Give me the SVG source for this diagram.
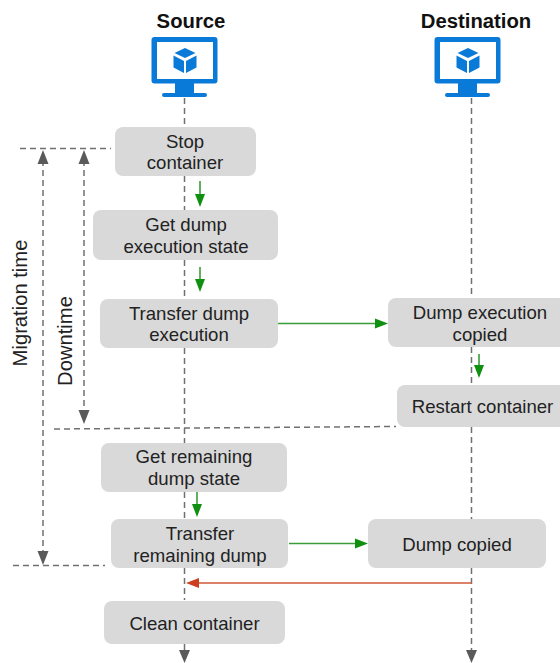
<svg xmlns="http://www.w3.org/2000/svg" width="560" height="663" viewBox="0 0 560 663">
<style>
text{font-family:"Liberation Sans",Arial,sans-serif;font-size:18.600px;fill:#222;text-anchor:middle}
.h{font-weight:bold;font-size:20.300px;fill:#111}
.v{font-size:20.200px}
.box{fill:#d9d9d9}
.d{fill:none;stroke:#707070;stroke-width:1.500;stroke-dasharray:6 4}
.g{fill:none;stroke:#3a9d3a;stroke-width:1.600}
.gh{fill:#109010}
.r{fill:none;stroke:#d0583a;stroke-width:1.600}
.rh{fill:#cc3f20}
.dh{fill:#5a5a5a}
.m{fill:#0a7ad8}
</style>
<defs>
<g id="mon">
<path class="m" fill-rule="evenodd" d="M-29.500 -23h59a3 3 0 0 1 3 3v40.500a3 3 0 0 1-3 3h-20.500v9.500h11a2 2 0 0 1 0 4h-41a2 2 0 0 1 0-4h11v-9.500h-20.500a3 3 0 0 1-3-3v-40.500a3 3 0 0 1 3-3zM-28 -18v37h56v-37z"/>
<path class="m" d="M0 -12l10.500 5-10.500 5-10.500-5zM-11.500 -4.500l10.500 5.500v12l-10.500-5.500zM11.500 -4.500l-10.500 5.500v12l10.500-5.500z"/>
</g>
</defs>
<g id="connectors">
<path class="d" d="M184.500 98V127M184.500 176V210M184.500 260V299M184.500 348V443M184.500 492V519M184.500 568V600M184.500 644V652"/>
<path class="dh" d="M179 650h11l-5.500 13z"/>
<path class="d" d="M471.500 98V299M471.500 347V385M471.500 427V519M471.500 568V652"/>
<path class="dh" d="M466 650h11l-5.500 13z"/>
<path class="d" d="M20 148.500H111M54 429L396 426.500M13 565.500H105"/>
<path class="d" d="M43 160V554M84 160V412"/>
<path class="dh" d="M43 150l5.500 14h-11zM84 150l5.500 14h-11zM84 424l-5.500-14h11zM43 565l-5.500-14h11z"/>
<path class="g" d="M200 181V196M200 267V281M197 492V506M479 354V368M278 323.500H375M289 543.500H358"/>
<path class="gh" d="M200 207l-5-13h10zM200 292l-5-13h10zM197 517l-5-13h10zM479 378l-5-13h10zM388 323.500l-13-5v10zM368 543.500l-13-5v10z"/>
<path class="r" d="M472 583H198"/>
<path class="rh" d="M186 583l13-5v10z"/>
</g>
<g id="source-head"><text class="h" x="191" y="28">Source</text><use href="#mon" x="185" y="60"/></g>
<g id="destination-head"><text class="h" x="476" y="28">Destination</text><use href="#mon" x="468" y="60"/></g>
<g id="stop"><rect class="box" x="115" y="127" width="141" height="49" rx="8"/><text x="185" y="148">Stop</text><text x="185" y="169">container</text></g>
<g id="get-dump"><rect class="box" x="93" y="210" width="185" height="50" rx="8"/><text x="186" y="231">Get dump</text><text x="186" y="253">execution state</text></g>
<g id="transfer-dump"><rect class="box" x="100" y="299" width="178" height="49" rx="8"/><text x="189" y="320">Transfer dump</text><text x="189" y="341">execution</text></g>
<g id="dump-copied"><rect class="box" x="388" y="298" width="180" height="49" rx="8"/><text x="480" y="319">Dump execution</text><text x="480" y="341">copied</text></g>
<g id="restart"><rect class="box" x="397" y="385" width="170" height="42" rx="8"/><text x="482.500" y="413">Restart container</text></g>
<g id="get-remaining"><rect class="box" x="101" y="443" width="186" height="49" rx="8"/><text x="194" y="463">Get remaining</text><text x="194" y="485">dump state</text></g>
<g id="transfer-remaining"><rect class="box" x="111" y="519" width="177" height="49" rx="8"/><text x="200" y="540">Transfer</text><text x="200" y="562">remaining dump</text></g>
<g id="copied"><rect class="box" x="368" y="519" width="178" height="49" rx="8"/><text x="457" y="551">Dump copied</text></g>
<g id="clean"><rect class="box" x="104" y="601" width="181" height="43" rx="8"/><text x="194.500" y="630">Clean container</text></g>
<g id="labels"><text class="v" transform="translate(27,303) rotate(-90)">Migration time</text><text class="v" transform="translate(72,341) rotate(-90)">Downtime</text></g>
</svg>
